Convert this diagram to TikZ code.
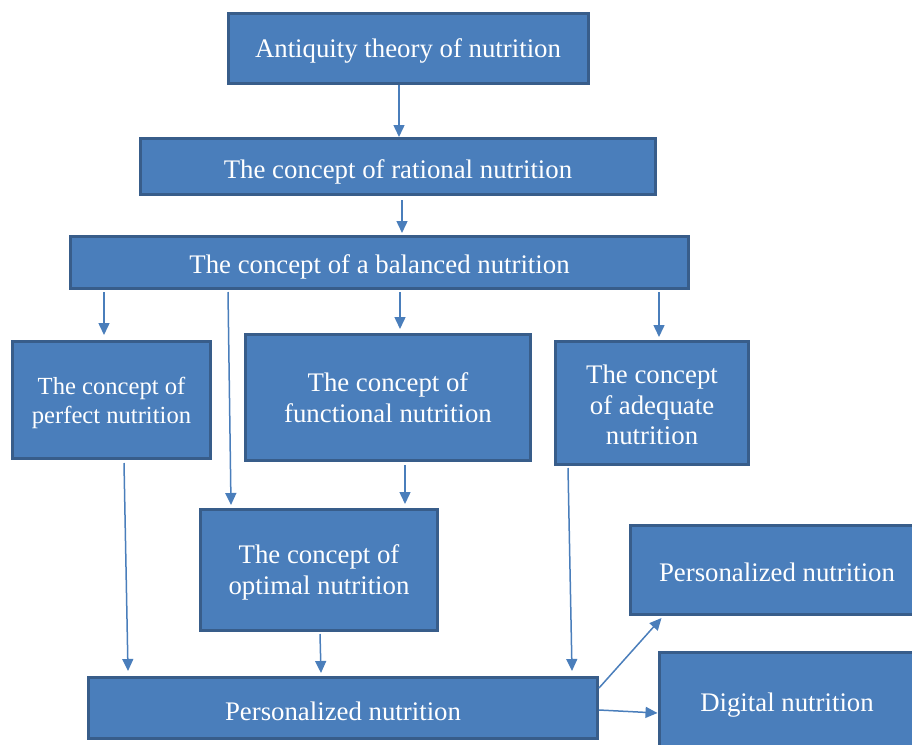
\documentclass[tikz,border=0pt]{standalone}
\usepackage{fontspec}
\setmainfont{Liberation Serif}
\usetikzlibrary{arrows.meta}
\definecolor{boxfill}{HTML}{4A7EBB}
\definecolor{boxline}{HTML}{385D8A}
\definecolor{arrcol}{HTML}{4A7EBB}
\tikzset{
  box/.style={draw=boxline, fill=boxfill, line width=3pt, inner sep=0pt},
  lbl/.style={text=white, align=center, font=\fontsize{26.8}{30.5}\selectfont, inner sep=0pt},
  arr/.style={draw=arrcol, line width=1.5pt, -{Triangle[length=12pt,width=11pt]}}
}
\begin{document}
\begin{tikzpicture}[x=1pt,y=-1pt]
\useasboundingbox (0,0) rectangle (912,744);
\clip (0,0) rectangle (912,744);
\node[box, minimum width=360pt, minimum height=70pt] (b1) at (408,48) {};
\node[box, minimum width=515pt, minimum height=56pt] (b2) at (398,166.5) {};
\node[box, minimum width=618pt, minimum height=52pt] (b3) at (379.5,262.5) {};
\node[box, minimum width=198pt, minimum height=117pt] (b4) at (111.5,400) {};
\node[box, minimum width=285pt, minimum height=126pt] (b5) at (388,397.5) {};
\node[box, minimum width=193pt, minimum height=123pt] (b6) at (652,403) {};
\node[box, minimum width=237pt, minimum height=121pt] (b7) at (319,570) {};
\node[box, minimum width=509pt, minimum height=61pt] (b8) at (343,708) {};
\node[box, minimum width=294pt, minimum height=89pt] (b9) at (777,570) {};
\node[box, minimum width=256pt, minimum height=99pt] (b10) at (787,702) {};

\node[lbl] (t1) at ([yshift=-3pt]b1.center) {Antiquity theory of nutrition};
\node[lbl] (t2) at ([yshift=-5pt]b2.center) {The concept of rational nutrition};
\node[lbl] (t3) at ([yshift=-4pt]b3.center) {The concept of a balanced nutrition};
\node[lbl, font=\fontsize{24.6}{29}\selectfont] (t4) at ([yshift=-3pt]b4.center) {The concept of\\perfect nutrition};
\node[lbl] (t5) at ([yshift=0pt]b5.center) {The concept of\\functional nutrition};
\node[lbl] (t6) at ([yshift=-2pt]b6.center) {The concept\\of adequate\\nutrition};
\node[lbl] (t7) at ([yshift=-2.5pt]b7.center) {The concept of\\optimal nutrition};
\node[lbl] (t8) at ([yshift=-3pt]b8.center) {Personalized nutrition};
\node[lbl] (t9) at ([yshift=-2pt]b9.center) {Personalized nutrition};
\node[lbl] (t10) at ([yshift=-3pt]b10.center) {Digital nutrition};

\draw[arr] ([xshift=-9pt]b1.south) -- ([xshift=1pt]b2.north);
\draw[arr] ([xshift=4pt,yshift=-4pt]b2.south) -- ([xshift=4pt,yshift=2pt]b3.north-|b2.south);
\draw[arr] ([xshift=-275.5pt,yshift=-2pt]b3.south) -- ([xshift=-7.5pt,yshift=5pt]b4.north);
\draw[arr] ([xshift=20.5pt,yshift=-2pt]b3.south) -- ([xshift=12pt,yshift=4pt]b5.north);
\draw[arr] ([xshift=279.5pt,yshift=-2pt]b3.south) -- ([xshift=7pt,yshift=3pt]b6.north);
\draw[arr] ([xshift=-151.5pt,yshift=-2pt]b3.south) -- ([xshift=-88pt,yshift=3pt]b7.north);
\draw[arr] ([xshift=12.5pt,yshift=-3pt]b4.south) -- ([xshift=-215pt,yshift=5pt]b8.north);
\draw[arr] ([xshift=17pt,yshift=-3pt]b5.south) -- ([xshift=86pt,yshift=4pt]b7.north);
\draw[arr] ([xshift=1pt,yshift=-2pt]b7.south) -- ([xshift=-22pt,yshift=3pt]b8.north);
\draw[arr] ([xshift=-84pt,yshift=-2pt]b6.south) -- ([xshift=229pt,yshift=5pt]b8.north);
\draw[arr] ([yshift=20pt]b8.east) -- ([xshift=33pt,yshift=-2pt]b9.south west);
\draw[arr] ([yshift=-2pt]b8.east) -- ([yshift=-11pt]b10.west);
\end{tikzpicture}
\end{document}
